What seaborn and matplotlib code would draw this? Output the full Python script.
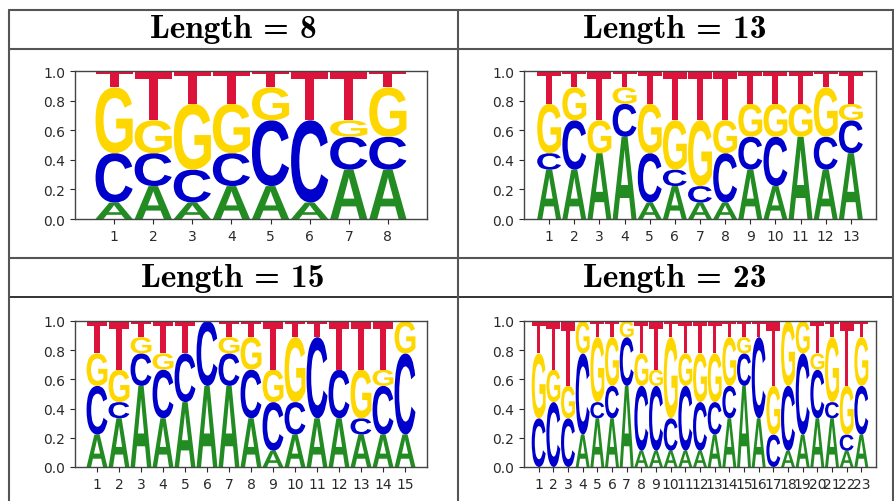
import numpy as np
import matplotlib
matplotlib.use('Agg')
import matplotlib.pyplot as plt
import seaborn as sns
from matplotlib.textpath import TextPath
from matplotlib.patches import PathPatch
from matplotlib.font_manager import FontProperties
from matplotlib.transforms import Affine2D

sns.set_style('ticks')
plt.rcParams['font.size'] = 10

# counts per position (out of 9 sequences), stacked bottom->top as A, C, G, T
bases = ['A', 'C', 'G', 'T']
base_colors = {'A': '#228B22', 'C': '#0000CD', 'G': '#FFD700', 'T': '#DC143C'}

len8_A = [1, 2, 1, 2, 2, 1, 3, 3]
len8_C = [3, 2, 2, 2, 4, 5, 2, 2]
len8_G = [4, 2, 4, 3, 2, 0, 1, 3]
len8_T = [1, 3, 2, 2, 1, 3, 3, 1]

len13_A = [3, 3, 4, 5, 1, 2, 1, 1, 3, 2, 5, 3, 4]
len13_C = [1, 3, 0, 2, 3, 1, 1, 3, 2, 3, 0, 2, 2]
len13_G = [3, 2, 2, 1, 3, 3, 4, 2, 2, 2, 2, 3, 1]
len13_T = [2, 1, 3, 1, 2, 3, 3, 3, 2, 2, 2, 1, 2]

len15_A = [2, 3, 5, 3, 4, 5, 5, 3, 1, 2, 3, 3, 2, 2, 2]
len15_C = [3, 1, 2, 3, 3, 4, 2, 3, 3, 2, 5, 3, 1, 3, 5]
len15_G = [2, 2, 1, 1, 0, 0, 1, 2, 2, 4, 0, 0, 3, 1, 2]
len15_T = [2, 3, 1, 2, 2, 0, 1, 1, 3, 1, 1, 3, 3, 3, 0]

len23_A = [0, 0, 0, 2, 3, 3, 5, 1, 1, 1, 1, 1, 2, 3, 5, 3, 0, 1, 2, 3, 3, 1, 2]
len23_C = [3, 4, 3, 5, 1, 2, 3, 4, 4, 2, 4, 3, 2, 2, 2, 5, 2, 4, 5, 3, 1, 1, 3]
len23_G = [4, 2, 2, 2, 4, 3, 1, 2, 1, 5, 2, 3, 3, 3, 1, 0, 3, 4, 2, 1, 4, 3, 3]
len23_T = [2, 3, 4, 0, 1, 1, 0, 2, 3, 1, 2, 2, 2, 1, 1, 1, 4, 0, 0, 2, 1, 4, 1]

n_seqs = 9
panel_lengths = [8, 13, 15, 23]
panel_counts = {
    8: [len8_A, len8_C, len8_G, len8_T],
    13: [len13_A, len13_C, len13_G, len13_T],
    15: [len15_A, len15_C, len15_G, len15_T],
    23: [len23_A, len23_C, len23_G, len23_T],
}

fp = FontProperties(family='Liberation Sans', weight='bold')
glyphs = {b: TextPath((0, 0), b, size=1, prop=fp) for b in bases}


def draw_letter(ax, letter, x, y, h, w=0.95):
    if h <= 0:
        return
    path = glyphs[letter]
    bb = path.get_extents()
    t = (Affine2D().translate(-bb.x0, -bb.y0)
         .scale(w / bb.width, h / bb.height)
         .translate(x - w / 2, y)) + ax.transData
    ax.add_patch(PathPatch(path, lw=0, fc=base_colors[letter], transform=t))


def draw_logo(ax, counts):
    probs = np.array(counts, dtype=float) / n_seqs
    n = probs.shape[1]
    for i in range(n):
        bottom = 0.0
        for j, b in enumerate(bases):
            draw_letter(ax, b, i + 1, bottom, probs[j, i])
            bottom += probs[j, i]
    ax.set_xlim(0, n + 1)
    ax.set_ylim(0, 1)
    ax.set_xticks(range(1, n + 1))
    ax.set_xticklabels([str(k) for k in range(1, n + 1)])
    ax.set_yticks([0, 0.2, 0.4, 0.6, 0.8, 1.0])
    ax.set_yticklabels(['0.0', '0.2', '0.4', '0.6', '0.8', '1.0'])
    for s in ax.spines.values():
        s.set_visible(True)
        s.set_color('#444444')
        s.set_linewidth(1.0)
    ax.tick_params(colors='#2a2a2a', labelsize=10, length=3.5, width=0.8)


W, H = 894, 502
fig = plt.figure(figsize=(W / 100, H / 100), dpi=100)

# table frame drawn in pixel coordinates
bg = fig.add_axes([0, 0, 1, 1])
bg.set_xlim(0, W)
bg.set_ylim(H, 0)
bg.axis('off')
line_kw = dict(color='#555555', lw=1.5)
bg.plot([9, 894], [11, 11], **line_kw)
bg.plot([9, 894], [50, 50], **line_kw)
bg.plot([9, 894], [259, 259], **line_kw)
bg.plot([9, 894], [298, 298], color='#111111', lw=1.2)
bg.plot([9, 9], [11, 502], **line_kw)
bg.plot([458, 458], [11, 502], **line_kw)
bg.plot([893, 893], [11, 502], **line_kw)

header_pos = [(233, 30), (675, 30), (233, 279), (675, 279)]
axes_px = [(75, 72, 427, 220), (524, 72, 876, 220),
           (75, 322, 427, 468), (524, 322, 876, 468)]

for L, (hx, hy), (x0, y0, x1, y1) in zip(panel_lengths, header_pos, axes_px):
    bg.text(hx, hy, 'Length = %d' % L, ha='center', va='center',
            fontsize=24, color='black', family='cmb10')
    ax = fig.add_axes([x0 / W, 1 - y1 / H, (x1 - x0) / W, (y1 - y0) / H])
    draw_logo(ax, panel_counts[L])

fig.savefig('out.png', dpi=100, facecolor='white')
